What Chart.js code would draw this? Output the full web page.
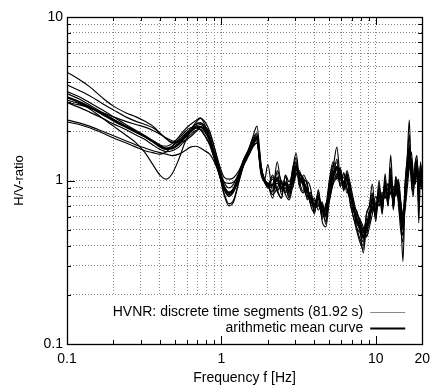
<!DOCTYPE html>
<html>
<head>
<meta charset="utf-8">
<script src="https://cdn.jsdelivr.net/npm/chart.js@4.4.1/dist/chart.umd.min.js"></script>
<style>
html,body{margin:0;padding:0;background:#fff;}
#wrap{width:437px;height:389px;position:relative;}
</style>
</head>
<body>
<div id="wrap"><canvas id="c" width="437" height="389"></canvas></div>
<script>
// ---- data ----
const freqs = [0.1,0.12,0.14,0.17,0.2,0.24,0.28,0.32,0.36,0.4,0.44,0.48,0.53,0.58,0.63,0.68,0.73,0.78,0.84,0.9,0.97,1.04,1.12,1.2,1.3,1.4,1.5,1.6,1.7,1.8,1.9,2.0,
 2.15,2.3,2.45,2.6,2.75,2.9,3.05,3.2,3.4,3.6,3.8,4.0,4.25,4.5,4.75,5.0,5.3,5.6,5.9,6.2,6.5,6.8,7.1,7.5,7.9,8.3,8.7,9.1,9.5,10,10.5,11,11.5,12,12.5,13,13.5,14,14.5,15,15.5,16,16.5,17,17.5,18,18.5,19,19.5,20];

const seg1 = [4.6,4.15,3.75,3.2,2.85,2.6,2.45,2.3,2.15,1.95,1.8,1.72,1.75,1.88,2.05,2.25,2.4,2.3,2.0,1.6,1.2,0.98,0.9,0.95,1.12,1.35,1.55,1.8,1.95,1.15,0.98,0.92,
 0.95,1.12,0.82,1.05,0.88,1.18,1.47,1.0,0.86,0.92,0.72,0.78,0.66,0.74,0.56,0.98,1.3,1.05,1.2,0.88,1.1,0.74,0.62,0.5,0.42,0.38,0.62,0.7,0.95,0.6,1.0,0.66,1.1,0.7,1.2,0.68,1.05,0.74,0.5,0.42,0.95,1.35,1.9,1.0,0.8,1.3,1.1,0.7,1.3,0.9];
const seg2 = [3.85,3.55,3.3,2.95,2.7,2.45,2.3,2.2,2.1,1.95,1.8,1.7,1.72,1.85,2.0,2.15,2.2,2.1,1.85,1.48,1.12,0.9,0.8,0.85,1.05,1.3,1.5,1.7,1.8,1.2,1.0,0.95,
 0.82,0.9,1.0,0.84,0.95,0.9,1.15,1.12,0.98,0.78,0.85,0.66,0.82,0.6,0.7,0.82,1.0,1.35,0.96,1.05,0.84,0.95,0.7,0.66,0.55,0.5,0.46,0.62,0.66,0.8,0.7,0.85,0.78,0.96,0.82,0.92,0.88,1.02,0.76,0.6,0.7,1.05,1.2,1.5,1.1,0.95,1.33,1.0,0.92,1.2];
const seg3 = [3.4,3.15,2.9,2.6,2.38,2.15,2.0,1.85,1.72,1.6,1.55,1.58,1.7,1.88,2.05,2.2,2.25,2.1,1.8,1.42,1.08,0.88,0.8,0.88,1.1,1.35,1.5,1.72,1.78,1.1,0.98,0.9,
 1.05,0.88,0.78,1.08,0.82,1.2,1.28,0.92,1.08,0.95,0.7,0.74,0.72,0.62,0.66,0.92,1.18,1.15,0.92,1.12,0.9,0.78,0.75,0.52,0.48,0.42,0.58,0.56,0.82,0.58,0.92,0.62,1.0,0.74,1.08,0.66,0.98,0.8,0.58,0.5,0.9,1.2,1.65,1.05,0.85,1.2,1.2,0.82,1.25,0.88];
const seg4 = [3.25,3.0,2.75,2.4,2.15,1.9,1.7,1.48,1.25,1.08,1.02,1.1,1.35,1.7,2.0,2.2,2.25,2.15,1.85,1.45,1.1,0.82,0.7,0.74,0.98,1.25,1.45,1.62,1.7,1.18,1.0,0.92,
 0.85,1.05,0.9,0.9,0.78,1.0,1.1,1.15,0.9,0.8,0.8,0.68,0.7,0.72,0.6,0.78,1.12,1.02,1.12,0.92,1.08,0.9,0.66,0.62,0.56,0.44,0.5,0.66,0.64,0.72,0.74,0.8,0.86,0.88,0.86,0.9,0.82,0.95,0.68,0.55,0.76,1.12,1.28,1.3,1.02,1.02,1.28,0.96,1.02,1.1];
const seg5 = [3.1,2.95,2.8,2.55,2.35,2.15,1.98,1.85,1.72,1.62,1.58,1.62,1.75,1.92,2.05,2.1,2.05,1.9,1.68,1.38,1.1,0.92,0.85,0.9,1.08,1.32,1.48,1.68,1.75,1.15,1.0,0.93,
 0.9,1.0,0.86,0.98,0.9,1.1,1.3,1.05,0.94,0.88,0.76,0.72,0.8,0.66,0.62,0.9,1.2,1.6,1.02,0.98,1.02,0.82,0.72,0.56,0.5,0.46,0.54,0.6,0.76,0.62,0.82,0.7,0.92,0.8,1.0,0.74,0.94,0.84,0.62,0.52,0.84,1.15,1.45,1.15,0.92,1.14,1.3,0.86,1.12,0.98];
const seg6 = [3.0,2.8,2.62,2.4,2.22,2.05,1.9,1.78,1.65,1.55,1.5,1.52,1.6,1.75,1.9,2.02,2.05,1.98,1.75,1.42,1.12,0.92,0.84,0.88,1.05,1.28,1.45,1.65,1.85,1.2,1.02,0.95,
 1.02,0.86,0.96,0.86,0.92,0.96,1.2,0.98,1.05,0.76,0.84,0.64,0.84,0.58,0.72,0.76,0.98,1.1,1.15,0.88,1.12,0.8,0.78,0.55,0.56,0.48,0.58,0.54,0.78,0.62,0.86,0.66,0.94,0.72,1.04,0.7,0.98,0.78,0.72,0.62,0.72,1.2,1.5,1.1,1.05,0.98,1.36,0.8,1.18,0.9];
const seg7 = [2.35,2.25,2.15,2.0,1.88,1.75,1.65,1.58,1.52,1.48,1.45,1.42,1.45,1.52,1.6,1.62,1.58,1.52,1.45,1.3,1.1,0.98,0.96,0.98,1.08,1.25,1.42,1.6,1.7,1.2,1.02,0.95,
 0.78,1.15,0.98,0.82,0.76,0.92,1.08,1.12,1.02,0.95,0.7,0.64,0.86,0.56,0.52,0.74,0.95,1.05,1.18,0.86,1.15,0.98,0.8,0.64,0.58,0.52,0.45,0.52,0.62,0.74,0.7,0.82,0.78,0.9,0.84,0.88,0.8,0.98,0.74,0.58,0.68,0.9,1.2,1.36,1.08,0.95,1.12,1.04,0.96,1.15];
const seg8 = [2.28,2.2,2.1,1.95,1.82,1.7,1.6,1.52,1.48,1.45,1.5,1.62,1.8,1.98,2.1,2.12,2.05,1.88,1.65,1.35,1.08,0.9,0.82,0.86,1.02,1.25,1.42,1.62,1.8,1.22,1.0,0.94,
 1.08,0.86,0.78,1.08,0.98,1.14,1.38,0.94,0.84,0.98,0.88,0.62,0.88,0.6,0.7,0.98,1.25,1.28,0.92,1.1,0.9,0.76,0.62,0.52,0.44,0.4,0.62,0.7,0.84,0.56,0.94,0.64,1.02,0.7,1.1,0.68,1.06,0.76,0.56,0.46,0.96,1.4,2.34,1.0,0.86,1.28,1.42,0.78,1.28,0.9];
const seg9 = [3.5,3.25,3.0,2.7,2.45,2.2,2.02,1.88,1.75,1.65,1.62,1.68,1.85,2.05,2.2,2.32,2.42,2.2,1.85,1.45,1.1,0.84,0.72,0.76,1.0,1.28,1.48,1.75,1.9,1.25,1.02,0.95,
 0.94,0.96,0.9,0.96,0.84,1.06,1.22,1.06,0.94,0.86,0.78,0.72,0.74,0.7,0.54,0.86,1.08,1.22,1.06,0.96,1.0,0.86,0.7,0.58,0.5,0.36,0.52,0.6,0.7,0.66,0.8,0.72,0.88,0.8,1.43,0.78,0.9,0.86,0.64,0.32,0.8,1.08,1.4,1.22,0.96,1.1,1.25,0.55,1.1,1.0];
const seg10 = [3.0,2.9,2.78,2.6,2.45,2.3,2.2,2.12,2.02,1.92,1.82,1.75,1.72,1.75,1.85,1.98,2.1,2.12,1.95,1.6,1.25,1.05,1.02,1.04,1.15,1.35,1.55,1.85,2.15,1.3,1.0,1.25,
 0.86,1.3,0.92,0.9,0.8,1.02,1.2,1.1,1.0,0.82,0.74,0.76,0.7,0.72,0.6,0.8,1.06,1.18,1.12,0.94,1.06,0.9,0.72,0.6,0.54,0.48,0.48,0.58,0.68,0.7,0.76,0.76,0.84,0.84,0.9,0.84,0.86,0.9,0.68,0.58,0.76,1.05,1.3,1.28,1.0,1.05,1.18,0.95,1.05,1.05];

const meanCurve = [3.23,3.02,2.82,2.54,2.33,2.13,1.98,1.86,1.74,1.63,1.56,1.57,1.67,1.83,1.98,2.10,2.13,2.03,1.78,1.45,1.13,0.92,0.84,0.88,1.06,1.30,1.48,1.70,1.84,1.20,1.0,0.96,
 0.93,1.02,0.89,0.95,0.86,1.05,1.23,1.04,0.96,0.87,0.78,0.70,0.78,0.65,0.62,0.86,1.10,1.20,1.07,0.97,1.03,0.85,0.71,0.58,0.51,0.45,0.53,0.60,0.75,0.65,0.83,0.71,0.93,0.77,1.02,0.76,0.93,0.85,0.64,0.52,0.81,1.15,1.57,1.19,0.96,1.11,1.25,0.85,1.13,1.0];

const segments = [seg1,seg2,seg3,seg4,seg5,seg6,seg7,seg8,seg9,seg10];
const seriesLabels = ['HVNR: discrete time segments (81.92 s)','arithmetic mean curve'];
const xTickValues = [0.1,0.2,0.3,0.4,0.5,0.6,0.7,0.8,0.9,1,2,3,4,5,6,7,8,9,10,20];
const xTickLabels = {0.1:'0.1',1:'1',10:'10',20:'20'};
const yTickValues = [0.1,0.2,0.3,0.4,0.5,0.6,0.7,0.8,0.9,1,2,3,4,5,6,7,8,9,10];
const yTickLabels = {0.1:'0.1',1:'1',10:'10'};
const xMajor = [0.1,1,10,20];
const yMajor = [0.1,1,10];

// ---- build ----
const FONT = '"Liberation Sans", Arial, Helvetica, sans-serif';
const toPts = arr => arr.map((v,i)=>({x:freqs[i], y:v}));
const datasets = [{
  label: seriesLabels[1], data: toPts(meanCurve), borderColor:'#000', borderWidth:2.2,
  pointRadius:0, cubicInterpolationMode:'monotone', legendColor:'#000'
}];
segments.forEach(s => datasets.push({
  label: seriesLabels[0], data: toPts(s), borderColor:'#000', borderWidth:1.15,
  pointRadius:0, cubicInterpolationMode:'monotone', legendColor:'#888'
}));

const boxPlugin = {
  id:'legendBox',
  beforeDatasetsDraw(chart){
    const {ctx, chartArea:a, scales} = chart;
    const top = Math.round(scales.y.getPixelForValue(0.2)) + 1;
    ctx.save(); ctx.fillStyle = '#fff';
    ctx.fillRect(a.left+1, top, a.right-a.left-2, a.bottom-top-1);
    ctx.restore();
  }
};
const framePlugin = {
  id:'frameTicks',
  afterDatasetsDraw(chart){
    const {ctx, chartArea:a, scales} = chart;
    ctx.save();
    ctx.strokeStyle = '#000'; ctx.lineWidth = 1;
    ctx.beginPath();
    xTickValues.forEach(v=>{
      const x = Math.round(scales.x.getPixelForValue(v)) + 0.5;
      const L = xMajor.includes(v) ? 8 : 4;
      ctx.moveTo(x, a.bottom); ctx.lineTo(x, a.bottom - L);
      ctx.moveTo(x, a.top); ctx.lineTo(x, a.top + L);
    });
    yTickValues.forEach(v=>{
      const y = Math.round(scales.y.getPixelForValue(v)) + 0.5;
      const L = yMajor.includes(v) ? 8 : 4;
      ctx.moveTo(a.left, y); ctx.lineTo(a.left + L, y);
      ctx.moveTo(a.right, y); ctx.lineTo(a.right - L, y);
    });
    ctx.stroke();
    ctx.lineWidth = 1.3;
    ctx.strokeRect(Math.round(a.left)+0.5, Math.round(a.top)+0.5, Math.round(a.right-a.left), Math.round(a.bottom-a.top));
    // legend
    const entries = [
      {text: seriesLabels[0], color: datasets[1].legendColor, w: 1},
      {text: seriesLabels[1], color: datasets[0].legendColor, w: 2.2}
    ];
    ctx.font = '14px ' + FONT;
    ctx.textAlign = 'right'; ctx.textBaseline = 'middle';
    entries.forEach((e,i)=>{
      const y = a.bottom - 32 + i*16;
      ctx.fillStyle = '#000';
      ctx.fillText(e.text, a.right - 59, y);
      ctx.strokeStyle = e.color; ctx.lineWidth = e.w;
      ctx.beginPath(); ctx.moveTo(a.right - 52, y + 0.5); ctx.lineTo(a.right - 17, y + 0.5); ctx.stroke();
    });
    ctx.restore();
  }
};

new Chart(document.getElementById('c'), {
  type:'line',
  data:{datasets},
  options:{
    responsive:false, animation:false,
    layout:{padding:{left:0, right:8, top:17, bottom:0}},
    plugins:{legend:{display:false}, tooltip:{enabled:false}},
    scales:{
      x:{
        type:'logarithmic', min:0.1, max:20,
        afterBuildTicks(s){ s.ticks = xTickValues.map(v=>({value:v})); },
        afterFit(s){ s.height = 45; },
        ticks:{ autoSkip:false, maxRotation:0, padding:7, color:'#000', font:{family:FONT, size:14},
          callback:(v)=> xTickLabels[v] ?? '' },
        grid:{ color:'#888', lineWidth:1, drawTicks:false },
        border:{ display:false, dash:[1,2] },
        title:{ display:true, text:'Frequency f [Hz]', color:'#000', font:{family:FONT, size:14}, padding:{top:0,bottom:2} }
      },
      y:{
        type:'logarithmic', min:0.1, max:10,
        afterBuildTicks(s){ s.ticks = yTickValues.map(v=>({value:v})); },
        afterFit(s){ s.width = 67; },
        ticks:{ autoSkip:false, padding:4, color:'#000', font:{family:FONT, size:14},
          callback:(v)=> yTickLabels[v] ?? '' },
        grid:{ color:'#888', lineWidth:1, drawTicks:false },
        border:{ display:false, dash:[1,2] },
        title:{ display:true, text:'H/V-ratio', color:'#000', font:{family:FONT, size:13}, padding:{top:12,bottom:0} }
      }
    }
  },
  plugins:[boxPlugin, framePlugin]
});
</script>
</body>
</html>
